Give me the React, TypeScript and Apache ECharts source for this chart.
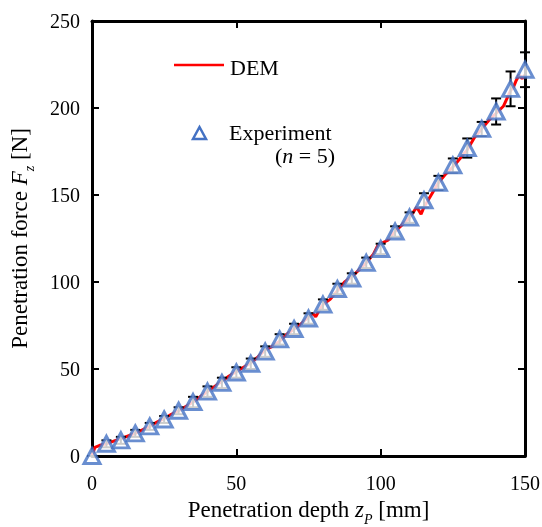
import React, { useEffect, useRef } from "react";
import * as echarts from "echarts";

const depth = [0, 5, 10, 15, 20, 25, 30, 35, 40, 45, 50, 55, 60, 65, 70, 75, 80, 85, 90, 95, 100, 105, 110, 115, 120, 125, 130, 135, 140, 145, 150];
const forceExp = [0, 7, 9, 13, 17, 21, 26, 31, 37, 42, 48, 53, 60, 67, 73, 79, 87, 96, 102, 111, 119, 129, 137, 147, 157, 167, 177, 188, 198, 211, 222];
const errExp = [0, 2, 2, 2, 2, 2, 2, 3, 3, 3, 3, 3, 3, 3, 3, 3, 3, 3, 3, 3, 3, 3, 3, 4, 4, 4, 5.5, 4, 7.5, 10, 10];

const demX = [0, 1, 2.5, 5, 7.5, 10, 12.5, 15, 17.5, 20, 22.5, 25, 27.5, 30, 32.5, 35, 37.5, 40, 42.5, 45, 47.5, 50, 52.5, 55, 57.5, 60, 62.5, 65, 67.5, 70, 72.5, 75, 76.5, 77.5, 78.5, 80, 82.5, 85, 87.5, 90, 92.5, 95, 97.5, 99, 100, 102.5, 105, 107.5, 110, 112.5, 114, 115, 117.5, 120, 122.5, 125, 127.5, 130, 132.5, 135, 137.5, 140, 142.5, 145, 146, 147, 148, 149, 150];
const demY = [0, 5, 6, 7, 8.5, 10, 11.5, 13, 15, 17, 19.5, 21.5, 24, 26, 28.5, 31, 34, 37, 40, 43, 46, 48.5, 51, 53.5, 57, 61, 63, 66, 70, 73, 76, 80, 82, 80, 83, 87, 90, 95, 100, 103, 107, 111, 116, 121, 122, 124, 129, 133, 137, 143, 139, 143, 150, 157, 162, 166, 171, 176, 183, 188, 193, 197, 201, 210, 212, 216, 219, 217, 219];

const xTicks = { min: 0, max: 150, interval: 50 };
const yTicks = { min: 0, max: 250, interval: 50 };

const FONT = "'Liberation Serif', 'Times New Roman', Times, serif";

export default function App() {
  const ref = useRef<HTMLDivElement>(null);
  useEffect(() => {
    if (!ref.current) return;
    const chart = echarts.init(ref.current, null, { renderer: "svg" });
    const demData = demX.map((x, i) => [x, demY[i]]);
    const expData = depth.map((x, i) => [x, forceExp[i]]);
    const errData = depth.map((x, i) => [x, forceExp[i] - errExp[i], forceExp[i] + errExp[i]]);
    const axisLine = { show: true, onZero: false, lineStyle: { color: "#000", width: 3 } };
    const axisTick = { show: true, inside: true, length: 7, lineStyle: { color: "#000", width: 2 } };
    const nameRich = {
      n: { fontFamily: FONT, fontSize: 23, color: "#000", lineHeight: 28, verticalAlign: "top" },
      i: { fontFamily: FONT, fontSize: 23, fontStyle: "italic", color: "#000", lineHeight: 28, verticalAlign: "top" },
      s: { fontFamily: FONT, fontSize: 14, fontStyle: "italic", color: "#000", lineHeight: 14, verticalAlign: "bottom", padding: [14, 0, 0, 0] },
    };
    chart.setOption({
      animation: false,
      textStyle: { fontFamily: FONT },
      grid: { left: 92, right: 17, top: 21, bottom: 71, containLabel: false, outerBoundsMode: "none" },
      xAxis: [
        {
          type: "value", ...xTicks, position: "bottom",
          axisLine, axisTick, splitLine: { show: false },
          axisLabel: { fontFamily: FONT, fontSize: 20, color: "#000", margin: 17 },
          name: "{n|Penetration depth }{i|z}{s|P}{n| [mm]}",
          nameLocation: "middle", nameGap: 42,
          nameTextStyle: { rich: nameRich },
        },
        {
          type: "value", ...xTicks, position: "top",
          axisLine, axisTick, splitLine: { show: false }, axisLabel: { show: false },
        },
      ],
      yAxis: [
        {
          type: "value", ...yTicks, position: "left",
          axisLine, axisTick, splitLine: { show: false },
          axisLabel: { fontFamily: FONT, fontSize: 20, color: "#000", margin: 12 },
          name: "{n|Penetration force }{i|F}{s|z}{n| [N]}",
          nameLocation: "middle", nameGap: 56,
          nameTextStyle: { rich: nameRich },
        },
        {
          type: "value", ...yTicks, position: "right",
          axisLine, axisTick, splitLine: { show: false }, axisLabel: { show: false },
        },
      ],
      series: [
        {
          type: "line", data: demData, showSymbol: false, symbol: "none",
          lineStyle: { color: "#ff0000", width: 3 }, z: 2,
        },
        {
          type: "custom", data: errData, encode: { x: 0, y: [1, 2] }, z: 3,
          renderItem: (params: any, api: any) => {
            const x = api.value(0);
            const lo = api.coord([x, api.value(1)]);
            const hi = api.coord([x, api.value(2)]);
            const w = 5;
            const st = { stroke: "#000", lineWidth: 2 };
            return {
              type: "group",
              children: [
                { type: "line", shape: { x1: lo[0], y1: lo[1], x2: hi[0], y2: hi[1] }, style: st },
                { type: "line", shape: { x1: lo[0] - w, y1: lo[1], x2: lo[0] + w, y2: lo[1] }, style: st },
                { type: "line", shape: { x1: hi[0] - w, y1: hi[1], x2: hi[0] + w, y2: hi[1] }, style: st },
              ],
            };
          },
        },
        {
          type: "scatter", data: expData, symbol: "triangle", symbolSize: [16, 15], clip: false, z: 4,
          itemStyle: { color: "#ffffff", borderColor: "#4472C4", borderWidth: 3 },
        },
      ],
      graphic: [
        { type: "line", shape: { x1: 174, y1: 65, x2: 224, y2: 65 }, style: { stroke: "#ff0000", lineWidth: 2.5 } },
        { type: "text", x: 230, y: 67, style: { text: "DEM", fontFamily: FONT, fontSize: 22, fill: "#000", verticalAlign: "middle" } },
        { type: "polygon", shape: { points: [[193, 139], [206, 139], [199.5, 127]] }, style: { fill: "none", stroke: "#4472C4", lineWidth: 2.5 } },
        { type: "text", x: 229, y: 132, style: { text: "Experiment", fontFamily: FONT, fontSize: 22, fill: "#000", verticalAlign: "middle" } },
        {
          type: "text", x: 275, y: 155,
          style: {
            text: "{n|(}{i|n}{n| = 5)}", verticalAlign: "middle",
            rich: {
              n: { fontFamily: FONT, fontSize: 22, fill: "#000" },
              i: { fontFamily: FONT, fontSize: 22, fontStyle: "italic", fill: "#000" },
            },
          },
        },
      ],
    });
    return () => chart.dispose();
  }, []);
  return <div ref={ref} style={{ position: "fixed", left: 0, top: 0, width: 542, height: 527 }} />;
}
